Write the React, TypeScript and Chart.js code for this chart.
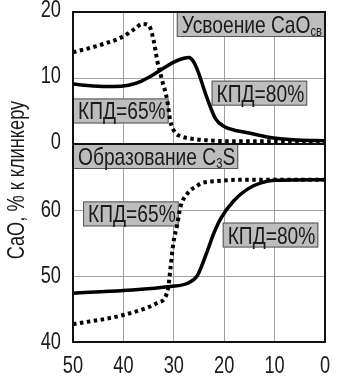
import { useEffect, useRef } from 'react';
import { Chart, registerables } from 'chart.js';

Chart.register(...registerables);

const FONT = '"Liberation Sans", Arial, Helvetica, sans-serif';
const NARROW = 0.76;
const NARROW_LABEL = 0.8;

// x-axis ticks (reversed axis 50 → 0)
const xTicks = [50, 40, 30, 20, 10, 0];
const yTopTicks = [0, 10, 20];
const yBotTicks = [40, 50, 60];

// Upper panel: Усвоение CaO св
const topSolidX = [50, 46, 42, 39, 36.5, 34.5, 32, 30, 28, 27, 26.2, 25.2, 23.7, 21.7, 20.1, 15.3, 10.2, 5.4, 0];
const topSolidY = [9.1, 8.8, 8.7, 8.9, 9.5, 10.3, 11.5, 12.4, 13.0, 13.1, 12.6, 11.0, 7.6, 3.8, 2.7, 1.7, 0.9, 0.6, 0.5];
const topDotX = [50, 44.6, 40, 37.5, 36.3, 35, 34, 33.3, 32.3, 31.3, 30.7, 29.7, 28.7, 27.3, 22.1, 15, 0];
const topDotY = [13.9, 15, 16.3, 17.6, 18.2, 18, 15.7, 12.7, 9.6, 6.6, 3.5, 1.7, 1.2, 0.9, 0.5, 0.4, 0.4];

// Lower panel: Образование C3S
const botSolidX = [50, 40, 30.7, 27.3, 25.3, 23.3, 22.1, 20.7, 18.1, 15.3, 12.7, 10, 0];
const botSolidY = [47.4, 47.8, 48.4, 48.9, 50.1, 53.9, 56.4, 58.7, 61.4, 63.2, 64.1, 64.5, 64.6];
const botDotX = [50, 40, 33.3, 31.7, 31.1, 30.7, 30.1, 29.3, 28.7, 27.3, 25.3, 24.7, 21.3, 15, 0];
const botDotY = [42.7, 44.1, 45.9, 46.8, 48.3, 50.9, 54.9, 57.9, 60.4, 62.5, 63.7, 64.0, 64.4, 64.6, 64.6];

const yTitle = 'CaO, % к клинкеру';

const boxLabels = [
  { text: 'Усвоение CaO', sub: 'св', after: '', axis: 'yTop', x: 0, y: 20, anchor: 'right' },
  { text: 'КПД=65%', sub: '', after: '', axis: 'yTop', x: 50, y: 6.9, anchor: 'left' },
  { text: 'КПД=80%', sub: '', after: '', axis: 'yTop', x: 22.5, y: 9.6, anchor: 'left' },
  { text: 'Образование C', sub: '3', after: 'S', axis: 'yBot', x: 50, y: 70, anchor: 'left' },
  { text: 'КПД=65%', sub: '', after: '', axis: 'yBot', x: 48, y: 61.3, anchor: 'left' },
  { text: 'КПД=80%', sub: '', after: '', axis: 'yBot', x: 20.3, y: 58.1, anchor: 'left' },
];

const pts = (xs: number[], ys: number[]) => xs.map((x, i) => ({ x, y: ys[i] }));

function narrowText(
  ctx: CanvasRenderingContext2D,
  text: string,
  x: number,
  y: number,
  size: number,
  align: CanvasTextAlign,
  baseline: CanvasTextBaseline,
  k: number = NARROW,
) {
  ctx.save();
  ctx.translate(x, y);
  ctx.scale(k, 1);
  ctx.font = size + 'px ' + FONT;
  ctx.textAlign = align;
  ctx.textBaseline = baseline;
  ctx.fillText(text, 0, 0);
  ctx.restore();
}

function narrowWidth(ctx: CanvasRenderingContext2D, text: string, size: number, k: number) {
  ctx.save();
  ctx.font = size + 'px ' + FONT;
  const w = ctx.measureText(text).width * k;
  ctx.restore();
  return w;
}

const framePlugin = {
  id: 'frameAndLabels',
  beforeDatasetsDraw(chart: any) {
    const ctx = chart.ctx as CanvasRenderingContext2D;
    const xs = chart.scales.x;
    const k = NARROW_LABEL;
    ctx.save();
    for (const b of boxLabels) {
      const ys = chart.scales[b.axis];
      const w1 = narrowWidth(ctx, b.text, 24, k);
      const w2 = b.sub ? narrowWidth(ctx, b.sub, 14, k) : 0;
      const w3 = b.after ? narrowWidth(ctx, b.after, 24, k) : 0;
      const w = w1 + w2 + w3 + 8;
      const h = 25;
      const px = xs.getPixelForValue(b.x);
      const py = ys.getPixelForValue(b.y);
      const left = b.anchor === 'right' ? px - w : px;
      ctx.fillStyle = '#bdbdbd';
      ctx.fillRect(left, py, w, h);
      ctx.strokeStyle = '#555';
      ctx.lineWidth = 1;
      ctx.strokeRect(left + 0.5, py + 0.5, w - 1, h - 1);
      ctx.fillStyle = '#1a1a1a';
      const base = py + 21;
      narrowText(ctx, b.text, left + 5, base, 24, 'left', 'alphabetic', k);
      if (b.sub) narrowText(ctx, b.sub, left + 5 + w1, base + 3, 14, 'left', 'alphabetic', k);
      if (b.after) narrowText(ctx, b.after, left + 5 + w1 + w2, base, 24, 'left', 'alphabetic', k);
    }
    ctx.restore();
  },
  afterDraw(chart: any) {
    const ctx = chart.ctx as CanvasRenderingContext2D;
    const a = chart.chartArea;
    const xs = chart.scales.x;
    const yTop = chart.scales.yTop;
    const yBot = chart.scales.yBot;
    ctx.save();
    ctx.strokeStyle = '#111';
    ctx.lineWidth = 2;
    ctx.strokeRect(a.left, a.top, a.right - a.left, a.bottom - a.top);
    const dy = yTop.getPixelForValue(0);
    ctx.beginPath();
    ctx.moveTo(a.left, dy);
    ctx.lineTo(a.right, dy);
    ctx.stroke();
    ctx.fillStyle = '#1a1a1a';
    // tick labels, positioned through the chart's scales
    for (const v of xTicks) {
      narrowText(ctx, String(v), xs.getPixelForValue(v), a.bottom + 31, 24, 'center', 'alphabetic');
    }
    for (const v of yTopTicks) {
      narrowText(ctx, String(v), a.left - 12, yTop.getPixelForValue(v) + 5, 24, 'right', 'alphabetic');
    }
    for (const v of yBotTicks) {
      narrowText(ctx, String(v), a.left - 12, yBot.getPixelForValue(v) + 7, 24, 'right', 'alphabetic');
    }
    // y axis title
    ctx.translate(17, (a.top + a.bottom) / 2 + 3);
    ctx.rotate(-Math.PI / 2);
    narrowText(ctx, yTitle, 0, 0, 24, 'center', 'middle');
    ctx.restore();
  },
};

export default function App() {
  const ref = useRef<HTMLCanvasElement>(null);
  useEffect(() => {
    if (!ref.current) return;
    const gridColor = '#a0a0a0';
    const line = (data: any, axis: string, dotted: boolean) => ({
      data,
      yAxisID: axis,
      borderColor: '#000',
      borderWidth: dotted ? 4 : 3.5,
      borderDash: dotted ? [3.5, 3.5] : [],
      borderCapStyle: 'butt',
      pointRadius: 0,
      cubicInterpolationMode: 'monotone',
    });
    const chart = new Chart(ref.current, {
      type: 'line',
      data: {
        datasets: [
          { label: 'КПД=80% (CaO св)', ...line(pts(topSolidX, topSolidY), 'yTop', false) },
          { label: 'КПД=65% (CaO св)', ...line(pts(topDotX, topDotY), 'yTop', true) },
          { label: 'КПД=80% (C3S)', ...line(pts(botSolidX, botSolidY), 'yBot', false) },
          { label: 'КПД=65% (C3S)', ...line(pts(botDotX, botDotY), 'yBot', true) },
        ],
      },
      options: {
        animation: false,
        responsive: true,
        maintainAspectRatio: false,
        layout: { padding: { left: 0, top: 12, right: 29, bottom: 0 } },
        plugins: { legend: { display: false }, tooltip: { enabled: false } },
        scales: {
          x: {
            type: 'linear',
            reverse: true,
            min: 0,
            max: 50,
            afterBuildTicks: (s: any) => {
              s.ticks = xTicks.map((v) => ({ value: v }));
            },
            ticks: { display: false },
            grid: { color: gridColor, lineWidth: 1, drawTicks: false },
            border: { display: false },
            afterFit: (s: any) => {
              s.height = 38;
            },
          },
          yBot: {
            type: 'linear',
            position: 'left',
            stack: 'panels',
            stackWeight: 3,
            min: 40,
            max: 70,
            ticks: { stepSize: 10, display: false },
            grid: { color: gridColor, lineWidth: 1, drawTicks: false },
            border: { display: false },
            afterFit: (s: any) => {
              s.width = 73;
            },
          },
          yTop: {
            type: 'linear',
            position: 'left',
            stack: 'panels',
            stackWeight: 2,
            min: 0,
            max: 20,
            ticks: { stepSize: 10, display: false },
            grid: { color: gridColor, lineWidth: 1, drawTicks: false },
            border: { display: false },
            afterFit: (s: any) => {
              s.width = 73;
            },
          },
        },
      },
      plugins: [framePlugin],
    } as any);
    return () => chart.destroy();
  }, []);
  return (
    <div style={{ position: 'fixed', left: 0, top: 0, width: 354, height: 380, background: '#fff' }}>
      <canvas ref={ref} />
    </div>
  );
}
